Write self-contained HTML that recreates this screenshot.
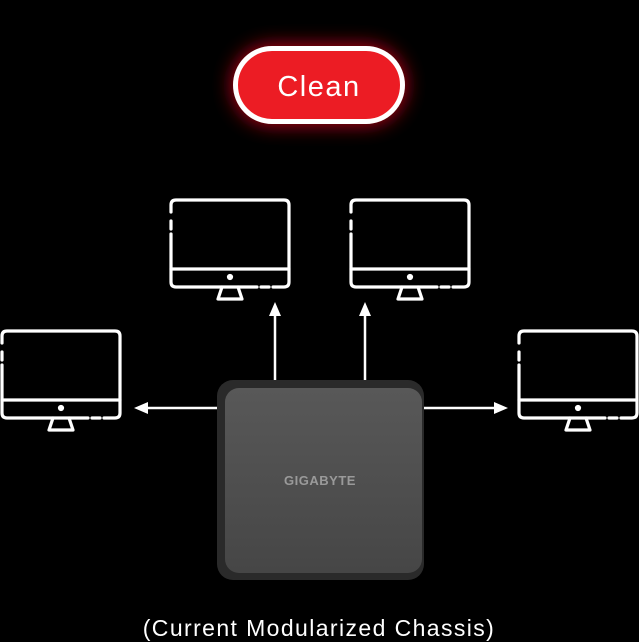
<!DOCTYPE html>
<html><head><style>
html,body{margin:0;padding:0;background:#000;width:639px;height:642px;overflow:hidden}
.t{font-family:"Liberation Sans",sans-serif;fill:#fff}
</style></head><body>
<svg width="639" height="642" viewBox="0 0 639 642" xmlns="http://www.w3.org/2000/svg">
<defs>
<filter id="glow" x="-50%" y="-80%" width="200%" height="260%"><feGaussianBlur stdDeviation="10"/></filter>
<linearGradient id="face" x1="0" y1="0" x2="0" y2="1"><stop offset="0" stop-color="#585858"/><stop offset="1" stop-color="#464646"/></linearGradient>
<g id="mon" fill="none" stroke="#fff" stroke-width="3.2" stroke-linecap="round" stroke-linejoin="round">
<path d="M0 12 V5 Q0 0 5 0 H113 Q118 0 118 5 V82 Q118 87 113 87 H102"/>
<path d="M0 21 V29"/>
<path d="M0 34 V82 Q0 87 5 87 H86"/>
<path d="M90 87 H98"/>
<path d="M0 69 H118"/>
<path d="M51 87 L47 99 H71 L67 87"/>
<circle cx="59" cy="77" r="1.5" fill="#fff"/>
</g>
</defs>
<rect x="233" y="46" width="172" height="78" rx="39" fill="#e3101e" filter="url(#glow)" opacity="0.9"/>
<rect x="235.5" y="48.5" width="167" height="73" rx="36.5" fill="#ec1c24" stroke="#fff" stroke-width="5"/>
<text class="t" x="319" y="96" font-size="29" text-anchor="middle" letter-spacing="1.5">Clean</text>
<use href="#mon" x="171" y="200"/>
<use href="#mon" x="351" y="200"/>
<use href="#mon" x="2" y="331"/>
<use href="#mon" x="519" y="331"/>
<g stroke="#fff" stroke-width="2.5">
<line x1="275" y1="382" x2="275" y2="314"/>
<line x1="365" y1="382" x2="365" y2="314"/>
<line x1="219" y1="408" x2="146" y2="408"/>
<line x1="422" y1="408" x2="496" y2="408"/>
</g>
<g fill="#fff">
<polygon points="275,302 269,316 281,316"/>
<polygon points="365,302 359,316 371,316"/>
<polygon points="134,408 148,402 148,414"/>
<polygon points="508,408 494,402 494,414"/>
</g>
<rect x="217" y="380" width="207" height="200" rx="16" fill="#2a2a2a"/>
<rect x="225" y="388" width="197" height="185" rx="14" fill="url(#face)"/>
<text x="320" y="485" font-family="Liberation Sans,sans-serif" font-weight="bold" font-size="13" fill="#9a9a9a" text-anchor="middle" letter-spacing="0.5">GIGABYTE</text>
<text class="t" x="319" y="636" font-size="23" text-anchor="middle" letter-spacing="1.4">(Current Modularized Chassis)</text>
</svg>
</body></html>
